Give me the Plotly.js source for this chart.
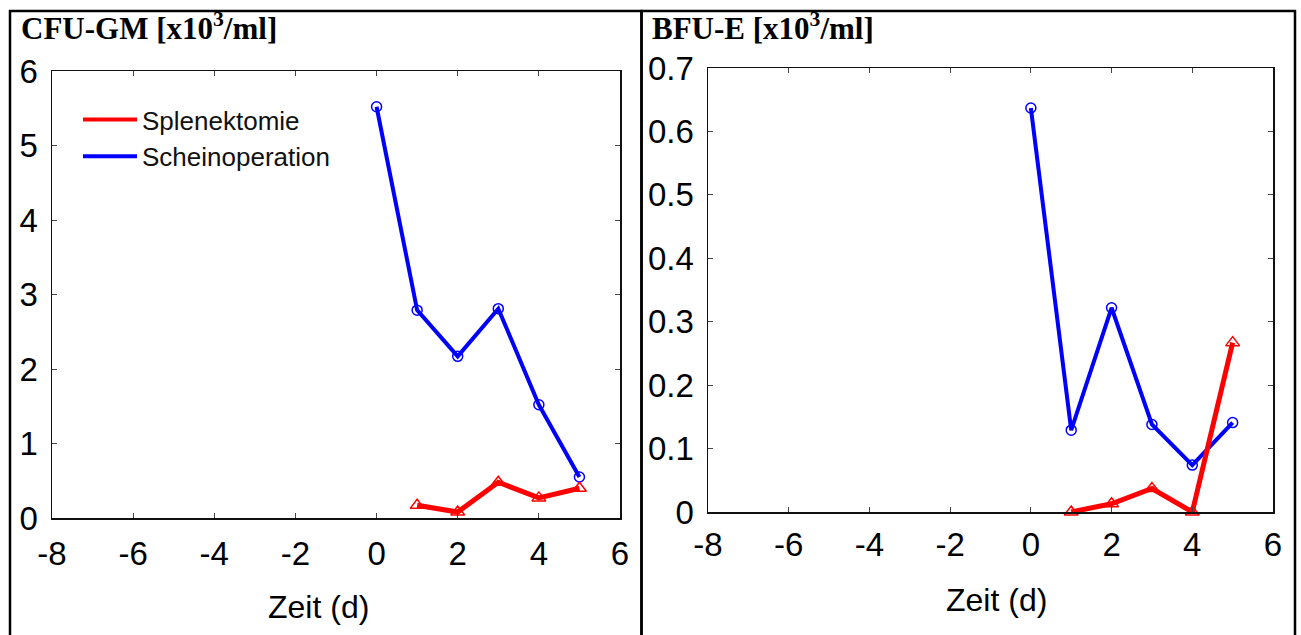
<!DOCTYPE html>
<html>
<head>
<meta charset="utf-8">
<script src="https://cdn.plot.ly/plotly-3.0.1.min.js"></script>
<style>html,body{margin:0;padding:0;background:#fff;}#chart{width:1301px;height:635px;}</style>
</head>
<body>
<div id="chart"></div>
<script>
// ---- data ----
const days = [0, 1, 2, 3, 4, 5];
const splenDays = [1, 2, 3, 4, 5];

const cfuSchein = [5.52, 2.79, 2.17, 2.81, 1.52, 0.55];
const cfuSplen  = [0.17, 0.08, 0.48, 0.27, 0.40];

const bfuSchein = [0.637, 0.129, 0.322, 0.138, 0.074, 0.141];
const bfuSplen  = [0.0, 0.013, 0.037, 0.0, 0.267];

const xTickVals = [-8, -6, -4, -2, 0, 2, 4, 6];
const xTickText = ["-8", "-6", "-4", "-2", "0", "2", "4", "6"];

const seriesNames = ["Splenektomie", "Scheinoperation"];
const panelTitles = ["CFU-GM [x10<sup>3</sup>/ml]", "BFU-E [x10<sup>3</sup>/ml]"];
const xTitle = "Zeit (d)";

const W = 1301, H = 635;
const RED = "#ff0000", BLUE = "#0000ff";
const px = v => v / W, py = v => 1 - v / H;

function lineTrace(x, y, color, symbol, xa, ya, name, width) {
  return {
    x: x, y: y, xaxis: xa, yaxis: ya, name: name, showlegend: false,
    type: "scatter", mode: "lines+markers",
    line: {color: color, width: width},
    marker: {symbol: symbol, size: symbol.indexOf("triangle") === 0 ? 12 : 10,
             color: color, line: {color: color, width: 1.5}},
    cliponaxis: false
  };
}

const traces = [
  lineTrace(days, cfuSchein, BLUE, "circle-open", "x", "y", seriesNames[1], 4),
  lineTrace(splenDays, cfuSplen, RED, "triangle-up-open", "x", "y", seriesNames[0], 5),
  lineTrace(days, bfuSchein, BLUE, "circle-open", "x2", "y2", seriesNames[1], 4),
  lineTrace(splenDays, bfuSplen, RED, "triangle-up-open", "x2", "y2", seriesNames[0], 5),
  // legend entries (lines only, as in the reference)
  {x: [null], y: [null], xaxis: "x", yaxis: "y", type: "scatter", mode: "lines",
   name: seriesNames[0], line: {color: RED, width: 4}, hoverinfo: "skip"},
  {x: [null], y: [null], xaxis: "x", yaxis: "y", type: "scatter", mode: "lines",
   name: seriesNames[1], line: {color: BLUE, width: 4}, hoverinfo: "skip"}
];

const tickFont = {family: "Liberation Sans, Arial, sans-serif", size: 33, color: "#000"};

function xAxis(domain, anchor, standoff) {
  return {
    domain: domain, anchor: anchor, range: [-8, 6], tickmode: "array",
    tickvals: xTickVals, ticktext: xTickText,
    ticks: "inside", ticklen: 5, tickwidth: 1, tickcolor: "#444",
    showline: true, linecolor: "#111", linewidth: 1.5, mirror: "ticks",
    showgrid: false, zeroline: false, tickfont: tickFont, ticklabelstandoff: standoff,
    fixedrange: true
  };
}
function yAxis(domain, anchor, range, dtick) {
  return {
    domain: domain, anchor: anchor, range: range, tickmode: "linear", tick0: 0, dtick: dtick,
    ticks: "inside", ticklen: 5, tickwidth: 1, tickcolor: "#444",
    showline: true, linecolor: "#111", linewidth: 1.5, mirror: "ticks",
    showgrid: false, zeroline: false, tickfont: tickFont, ticklabelstandoff: 6,
    fixedrange: true
  };
}

const titleFont = {family: "Liberation Serif, Times New Roman, serif", size: 31, color: "#000"};
const axTitleFont = {family: "Liberation Sans, Arial, sans-serif", size: 32, color: "#000"};

const layout = {
  width: W, height: H,
  margin: {l: 0, r: 0, t: 0, b: 0},
  paper_bgcolor: "#fff", plot_bgcolor: "#fff",
  showlegend: true,
  legend: {
    x: px(78), y: py(96), xanchor: "left", yanchor: "top",
    bgcolor: "rgba(0,0,0,0)", borderwidth: 0, itemwidth: 54,
    font: {family: "Liberation Sans, Arial, sans-serif", size: 26, color: "#111"},
    tracegroupgap: 0
  },
  xaxis: xAxis([px(52), px(620)], "y", 6),
  yaxis: yAxis([py(518), py(71)], "x", [0, 6], 1),
  xaxis2: xAxis([px(708), px(1273)], "y2", 3),
  yaxis2: yAxis([py(512), py(68)], "x2", [0, 0.7], 0.1),
  annotations: [
    {text: "<b>" + panelTitles[0] + "</b>", xref: "paper", yref: "paper",
     x: px(19), y: py(48), xanchor: "left", yanchor: "bottom", showarrow: false, font: titleFont},
    {text: "<b>" + panelTitles[1] + "</b>", xref: "paper", yref: "paper",
     x: px(650), y: py(48), xanchor: "left", yanchor: "bottom", showarrow: false, font: titleFont},
    {text: xTitle, xref: "paper", yref: "paper", x: px(318), y: py(607),
     xanchor: "center", yanchor: "middle", showarrow: false, font: axTitleFont},
    {text: xTitle, xref: "paper", yref: "paper", x: px(996), y: py(600),
     xanchor: "center", yanchor: "middle", showarrow: false, font: axTitleFont}
  ],
  shapes: [
    {type: "rect", xref: "paper", yref: "paper", x0: px(10), x1: px(641.5), y0: -0.02, y1: py(11),
     line: {color: "#000", width: 2.5}},
    {type: "rect", xref: "paper", yref: "paper", x0: px(641.5), x1: px(1295), y0: -0.02, y1: py(11),
     line: {color: "#000", width: 2.5}}
  ]
};

Plotly.newPlot("chart", traces, layout, {displayModeBar: false, staticPlot: true});
</script>
</body>
</html>
